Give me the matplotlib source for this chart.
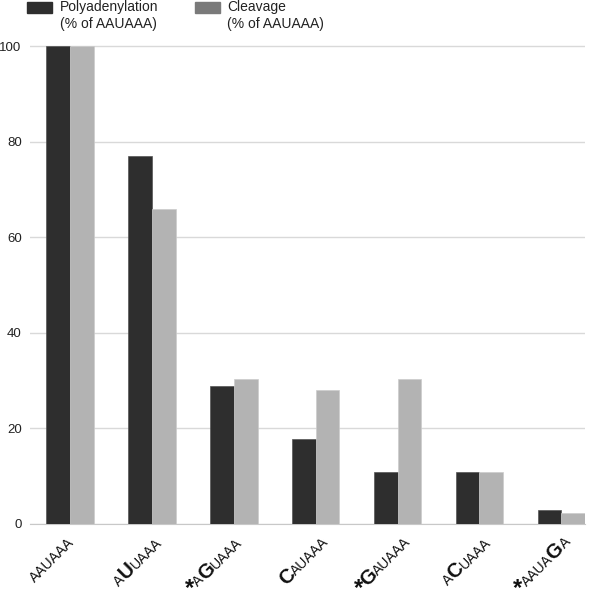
import numpy as np
import matplotlib
matplotlib.use("Agg")
import matplotlib.pyplot as plt
import matplotlib.transforms as mtransforms
from matplotlib.patches import Rectangle

plt.rcParams["font.family"] = ["Liberation Sans", "DejaVu Sans"]

# ── Data ──────────────────────────────────────────────────────────────────────
signals   = ["AAUAAA", "AUUAAA", "*AGUAAA", "CAUAAA", "*GAUAAA", "ACUAAA", "*AAUAGA"]
polyadeny = [100, 77, 28.8, 17.8, 10.8, 10.8, 3.0]
cleavage  = [100, 66, 30.3, 28.0, 30.3, 10.8, 2.2]
yticks    = [0, 20, 40, 60, 80, 100]

# label segments: (text, emphasised); starred labels get an upright asterisk
label_parts = [
    [("AAUAAA", False)],
    [("A", False), ("U", True), ("UAAA", False)],
    [("A", False), ("G", True), ("UAAA", False)],
    [("C", True), ("AUAAA", False)],
    [("G", True), ("AUAAA", False)],
    [("A", False), ("C", True), ("UAAA", False)],
    [("AAUA", False), ("G", True), ("A", False)],
]
starred = [False, False, True, False, True, False, True]
label_nudge = [5, 11, 9, 14, 14, 12, 10]   # px, right end of each label

DARK  = "#2e2e2e"
LIGHT = "#b3b3b3"

fig = plt.figure(figsize=(6.0, 5.92), dpi=100)
ax = fig.add_axes([0.05, 0.115, 0.925, 0.809])

x = np.arange(len(signals))
w = 0.29
ax.bar(x - w / 2, polyadeny, w, color=DARK, edgecolor="#555555", linewidth=0.5, zorder=3)
ax.bar(x + w / 2, cleavage, w, color=LIGHT, edgecolor="#cccccc", linewidth=0.5, zorder=3)

ax.set_xlim(-0.49, 6.29)
ax.set_ylim(0, 100.3)
ax.set_yticks(yticks)
ax.set_yticklabels([str(v) for v in yticks], fontsize=9.5, color="#222222")
ax.tick_params(axis="y", length=0, pad=6)
ax.set_xticks([])
ax.grid(axis="y", color="#d9d9d9", linewidth=1, zorder=0)
for s in ["top", "right", "left"]:
    ax.spines[s].set_visible(False)
ax.spines["bottom"].set_color("#c8c8c8")

# ── Rotated mixed-style x labels ─────────────────────────────────────────────
renderer = fig.canvas.get_renderer()
base = mtransforms.blended_transform_factory(ax.transData, ax.transAxes)
ang = np.deg2rad(45)
for i, parts in enumerate(label_parts):
    x0 = label_nudge[i]
    y0 = -19
    offset = 0.0
    for txt, bold in reversed(parts):
        size = 14.5 if bold else 10
        tr = mtransforms.offset_copy(base, fig=fig, x=x0 - offset * np.cos(ang),
                                     y=y0 - offset * np.sin(ang), units="dots")
        t = ax.text(i, 0, txt, transform=tr, fontsize=size,
                    fontweight="bold" if bold else "normal",
                    ha="right", va="baseline", rotation=0,
                    rotation_mode="anchor", color="#111111", clip_on=False)
        offset += t.get_window_extent(renderer).width
        t.set_rotation(45)
    if starred[i]:
        sx = x0 - offset * np.cos(ang)
        sy = y0 - offset * np.sin(ang)
        tr = mtransforms.offset_copy(base, fig=fig, x=sx - 9, y=sy - 8,
                                     units="dots")
        ax.text(i, 0, "*", transform=tr, fontsize=17, fontweight="bold",
                ha="center", va="baseline", color="#111111", clip_on=False)

# ── Legend (top, manual) ─────────────────────────────────────────────────────
fig.add_artist(Rectangle((27 / 600, 1 - 13 / 592), 25 / 600, 11 / 592,
                         transform=fig.transFigure, color=DARK))
fig.text(60 / 600, 1 - 0 / 592, "Polyadenylation\n(% of AAUAAA)", fontsize=10,
         va="top", ha="left", color="#222222", linespacing=1.25)
fig.add_artist(Rectangle((195 / 600, 1 - 13 / 592), 25 / 600, 11 / 592,
                         transform=fig.transFigure, color="#7a7a7a"))
fig.text(227 / 600, 1 - 0 / 592, "Cleavage\n(% of AAUAAA)", fontsize=10,
         va="top", ha="left", color="#222222", linespacing=1.25)

fig.savefig("out.png", dpi=100)
